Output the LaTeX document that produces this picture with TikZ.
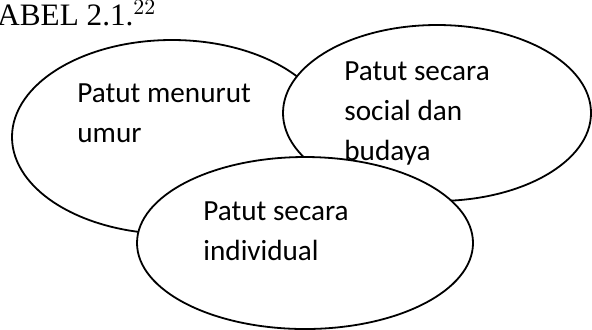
\documentclass[tikz,border=0pt]{standalone}
\usepackage{fontspec}
\setmainfont{Carlito}
\newfontfamily\titleFont{Liberation Serif}
\usetikzlibrary{shapes.geometric}
\tikzstyle{pixelGrid} = [x = 0.5pt, y = -0.5pt]
\tikzstyle{ellipseStyle} = [ellipse, draw=black, fill=white, line width=0.9pt, inner sep=0pt, outer sep=0pt]
% base of a node with several lines is the base of its last line
\tikzstyle{labelText} = [anchor=base west, align=left, inner sep=0pt, font=\fontsize{14.6}{20}\selectfont]
\tikzstyle{titleText} = [anchor=base west, inner sep=0pt, font=\titleFont\fontsize{15.6}{18}\selectfont]

\begin{document}
\begin{tikzpicture}[pixelGrid]
          \useasboundingbox (0,0) rectangle (592,329);
          % ellipses, later ones lie over earlier ones
          \node [ellipseStyle, minimum width=160pt, minimum height=97pt] (umurEllipse) at (172,137) {};
          \node [ellipseStyle, minimum width=154pt, minimum height=88pt] (sosialEllipse) at (437,113) {};
          \node [ellipseStyle, minimum width=168pt, minimum height=86pt] (individuEllipse) at (305,243) {};

          % texts on top
          \node [titleText] (title) at (-3,25) {ABEL 2.1.$^{22}$};
          \node [labelText] (umurText) at (77,142) {Patut menurut\\umur};
          \node [labelText] (sosialText) at (344,160) {Patut secara\\social dan\\budaya};
          \node [labelText] (individuText) at (203,260) {Patut secara\\individual};
        \end{tikzpicture}
\end{document}
